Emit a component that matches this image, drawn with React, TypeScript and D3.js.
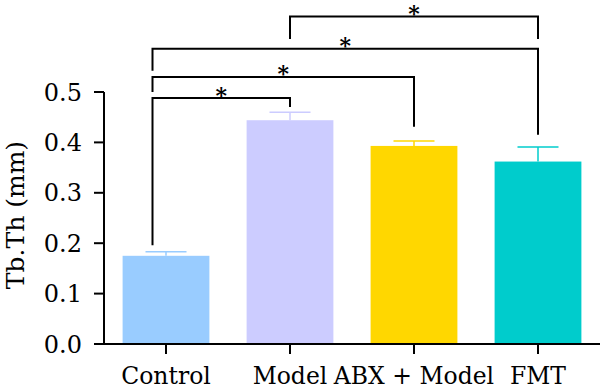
import * as d3 from "d3";

const categories = ["Control", "Model", "ABX + Model", "FMT"];
const means = [0.175, 0.444, 0.393, 0.362];
const errors = [0.008, 0.016, 0.01, 0.029];
const colors = ["#99ccff", "#ccccff", "#ffd700", "#00cccc"];
const yTicks = [0, 0.1, 0.2, 0.3, 0.4, 0.5];

// significance brackets: groups compared, bar height, leg ends (data units)
const bracketFrom = [0, 0, 0, 1];
const bracketTo = [1, 2, 3, 3];
const bracketLevel = [0.488, 0.53, 0.586, 0.65];
const legFromEnd = [0.196, 0.5, 0.542, 0.605];
const legToEnd = [0.47, 0.431, 0.415, 0.605];

const FONT = "DejaVu Serif";

export default function App() {
  const width = 600;
  const height = 390;

  const x = d3
    .scaleBand()
    .domain(categories)
    .range([104, 600])
    .paddingInner(0.3)
    .paddingOuter(0.15);

  const y = d3.scaleLinear().domain([0, 0.5]).range([344, 92]);

  const cx = (i: number) => (x(categories[i]) ?? 0) + x.bandwidth() / 2;

  return (
    <svg
      width={width}
      height={height}
      style={{ position: "absolute", left: 0, top: 0, background: "#fff" }}
      fontFamily={FONT}
    >
      {/* bars + error bars */}
      {categories.map((c, i) => {
        const x0 = x(c) ?? 0;
        const top = y(means[i] + errors[i]);
        return (
          <g key={c}>
            <rect
              x={x0}
              y={y(means[i])}
              width={x.bandwidth()}
              height={y(0) - y(means[i])}
              fill={colors[i]}
            />
            <line
              x1={cx(i)}
              x2={cx(i)}
              y1={y(means[i])}
              y2={top}
              stroke={colors[i]}
              strokeWidth={1.5}
            />
            <line
              x1={cx(i) - 20.5}
              x2={cx(i) + 20.5}
              y1={top}
              y2={top}
              stroke={colors[i]}
              strokeWidth={1.5}
            />
          </g>
        );
      })}

      {/* y axis */}
      <line x1={104} x2={104} y1={y(0.5)} y2={y(0)} stroke="#000" strokeWidth={2} />
      {yTicks.map((t) => (
        <g key={t}>
          <line x1={94} x2={104} y1={y(t)} y2={y(t)} stroke="#000" strokeWidth={2} />
          <text
            x={82}
            y={y(t)}
            dy="0.36em"
            textAnchor="end"
            fontSize={24}
            fill="#000"
          >
            {t.toFixed(1)}
          </text>
        </g>
      ))}
      <text
        transform={`translate(24,${215}) rotate(-90)`}
        textAnchor="middle"
        fontSize={25}
        fill="#000"
      >
        Tb.Th (mm)
      </text>

      {/* x axis */}
      <line x1={94} x2={600} y1={y(0)} y2={y(0)} stroke="#000" strokeWidth={2} />
      {categories.map((c, i) => (
        <g key={c}>
          <line x1={cx(i)} x2={cx(i)} y1={y(0)} y2={354} stroke="#000" strokeWidth={2} />
          <text x={cx(i)} y={384} textAnchor="middle" fontSize={23.5} fill="#000">
            {c}
          </text>
        </g>
      ))}

      {/* brackets */}
      {bracketFrom.map((a, k) => {
        const b = bracketTo[k];
        const yl = y(bracketLevel[k]);
        const xa = a === 0 ? 152.5 : cx(a);
        const xb = cx(b);
        return (
          <g key={k}>
            <path
              d={`M${xa},${y(legFromEnd[k])}V${yl}H${xb}V${y(legToEnd[k])}`}
              fill="none"
              stroke="#000"
              strokeWidth={2}
            />
            <text
              x={(xa + xb) / 2}
              y={yl + 4.5}
              textAnchor="middle"
              fontSize={22}
              fontWeight="bold"
              fill="#000"
            >
              *
            </text>
          </g>
        );
      })}
    </svg>
  );
}
